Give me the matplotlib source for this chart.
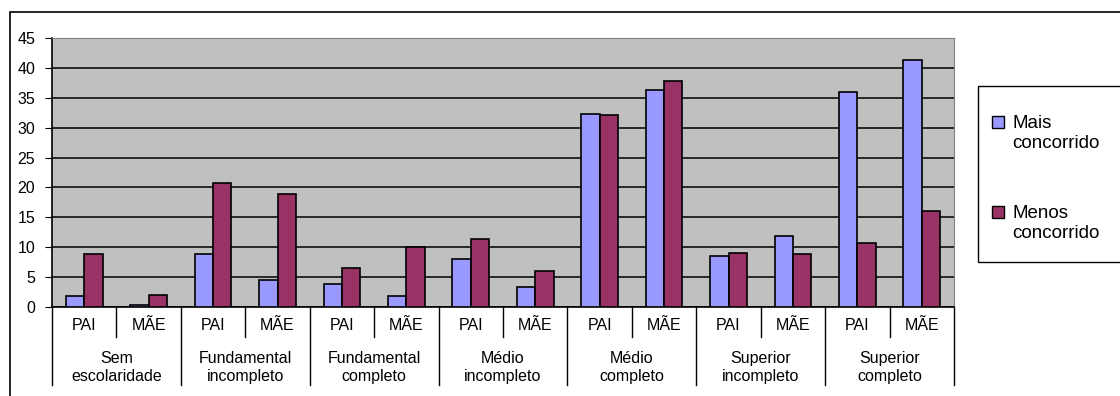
import numpy as np
import matplotlib.pyplot as plt
from matplotlib.patches import Rectangle, Patch
from matplotlib.legend_handler import HandlerPatch

plt.rcParams['font.family'] = ['Liberation Sans', 'DejaVu Sans']

# data
groups = ['Sem\nescolaridade', 'Fundamental\nincompleto', 'Fundamental\ncompleto',
          'Médio\nincompleto', 'Médio\ncompleto', 'Superior\nincompleto',
          'Superior\ncompleto']
parents = ['PAI', 'MÃE']
mais = [1.8, 0.4, 8.9, 4.6, 3.9, 1.8, 8.0, 3.3, 32.3, 36.3, 8.5, 11.9, 35.9, 41.4]
menos = [8.9, 2.0, 20.7, 18.9, 6.6, 10.0, 11.3, 6.1, 32.1, 37.8, 9.0, 8.8, 10.7, 16.1]
series_names = ['Mais\nconcorrido', 'Menos\nconcorrido']

blue = '#9999FF'
red = '#993366'

fig = plt.figure(figsize=(11.2, 3.96), dpi=100)
# outer chart frame
fig.patches.append(Rectangle((10 / 1120, -0.05), 1.2, (396 - 12) / 396 + 0.05,
                             transform=fig.transFigure, fill=False,
                             edgecolor='black', linewidth=1.2))

ax = fig.add_axes([52 / 1120, 89 / 396, 902 / 1120, 269 / 396])
ax.set_facecolor('#C0C0C0')

x = np.arange(len(mais))
w = 0.286
ax.bar(x - w / 2, mais, w, color=blue, edgecolor='black', linewidth=1.2,
       label=series_names[0], zorder=3)
ax.bar(x + w / 2, menos, w, color=red, edgecolor='black', linewidth=1.2,
       label=series_names[1], zorder=3)

ax.set_xlim(-0.5, len(mais) - 0.5)
ax.set_ylim(0, 45)
ax.set_yticks(np.arange(0, 46, 5))
ax.tick_params(axis='y', labelsize=11.5, length=5, direction='out', pad=7)
ax.yaxis.grid(True, color='black', linewidth=1.1, zorder=1)
ax.set_axisbelow(True)
ax.set_xticks([])
for s in ['top', 'right']:
    ax.spines[s].set_color('#808080')
for s in ['left', 'bottom']:
    ax.spines[s].set_color('black')
    ax.spines[s].set_linewidth(1.2)

# category axis: PAI / MÃE labels and group labels
trans = ax.get_xaxis_transform()
for i in range(len(mais)):
    ax.text(x[i], -0.067, parents[i % 2], transform=trans, ha='center',
            va='center', fontsize=11.5)
for g, name in enumerate(groups):
    ax.text(2 * g + 0.5, -0.226, name, transform=trans, ha='center',
            va='center', fontsize=11.5, linespacing=1.25)
for b in range(len(mais) + 1):
    y_end = -0.29 if b % 2 == 0 else -0.112
    ax.plot([b - 0.5, b - 0.5], [0, y_end], transform=trans, color='black',
            linewidth=1.0, clip_on=False)


# legend: square aligned with the first line of each label
def top_square(legend, orig_handle, xdescent, ydescent, width, height, fontsize):
    return Rectangle((-xdescent, -ydescent + 0.6 * fontsize), width, height)


fig.patches.append(Rectangle((978 / 1120, 1 - 262 / 396), 0.2, 176 / 396,
                             transform=fig.transFigure, facecolor='white',
                             edgecolor='black', linewidth=1.0))
handles = [Patch(facecolor=blue, edgecolor='black', label=series_names[0]),
           Patch(facecolor=red, edgecolor='black', label=series_names[1])]
leg = fig.legend(handles=handles, loc='upper left',
                 bbox_to_anchor=(992 / 1120, 1 - 115 / 396),
                 fontsize=13.5, frameon=False, borderpad=0, labelspacing=2.85,
                 handlelength=0.65, handleheight=0.6, handletextpad=0.42,
                 borderaxespad=0,
                 handler_map={Patch: HandlerPatch(patch_func=top_square)})
for t in leg.get_texts():
    t.set_linespacing(1.2)

fig.savefig('out.png', dpi=100)
